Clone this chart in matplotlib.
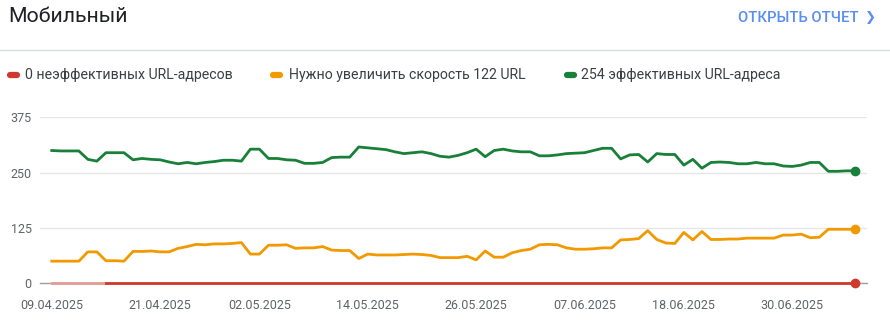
import numpy as np
import pandas as pd
import matplotlib
matplotlib.use('Agg')
import matplotlib.pyplot as plt
from matplotlib.lines import Line2D

plt.rcParams['font.family'] = ['Roboto', 'DejaVu Sans']

start_date = '09.04.2025'
tick_labels = ['09.04.2025', '21.04.2025', '02.05.2025', '14.05.2025',
               '26.05.2025', '07.06.2025', '18.06.2025', '30.06.2025']

# daily URL counts, one value per day starting at start_date
good = [300, 299, 299, 299, 280, 276, 295, 295, 295, 279,
        282, 280, 279, 274, 270, 273, 270, 273, 275, 278,
        278, 276, 303, 303, 282, 282, 279, 278, 271, 271,
        273, 284, 285, 285, 308, 306, 304, 302, 297, 293,
        295, 297, 293, 287, 285, 289, 295, 303, 286, 300,
        303, 299, 297, 297, 288, 288, 290, 293, 294, 295,
        300, 305, 305, 281, 290, 291, 274, 293, 291, 291,
        267, 280, 260, 273, 274, 273, 270, 270, 273, 270,
        270, 265, 264, 267, 273, 273, 253, 253, 254, 254]
need_work = [50, 50, 50, 50, 71, 71, 51, 51, 50, 72,
             72, 73, 71, 71, 79, 83, 88, 87, 89, 89,
             90, 92, 66, 66, 86, 86, 87, 79, 80, 80,
             83, 75, 74, 74, 56, 66, 64, 64, 64, 65,
             66, 65, 63, 58, 58, 58, 61, 53, 73, 59,
             59, 69, 74, 77, 87, 88, 87, 80, 77, 77,
             78, 80, 80, 98, 99, 101, 119, 99, 91, 90,
             115, 98, 117, 99, 99, 100, 100, 102, 102, 102,
             102, 109, 109, 111, 103, 104, 122, 122, 122, 122]
poor = [0] * 90

RED = '#d03a2c'
ORANGE = '#f29900'
GREEN = '#188038'

days = np.arange(len(good))
t0 = pd.to_datetime(start_date, dayfirst=True)
tick_pos = [(pd.to_datetime(t, dayfirst=True) - t0).days for t in tick_labels]

fig = plt.figure(figsize=[8.9, 3.23], dpi=100)
W, H = 890, 323

ax = fig.add_axes([40 / W, (H - 283.3) / H, 826.7 / W, 166.0 / H])
ax.set_xlim(-1.3, 90.25)
ax.set_ylim(0, 375)
ax.set_yticks([0, 125, 250, 375])
ax.set_xticks(tick_pos)
ax.set_xticklabels(tick_labels)
for s in ax.spines.values():
    s.set_visible(False)
ax.tick_params(length=0, colors='#5f6368', labelsize=9)
ax.tick_params(axis='x', pad=11)
ax.tick_params(axis='y', pad=6)
ax.grid(axis='y', color='#e6e6e6', linewidth=1)
ax.axhline(0, color='#9e9e9e', linewidth=1, clip_on=False, zorder=1)

# poor: first week drawn faded, then solid
ax.plot(days[:7], poor[:7], color='#e39a93', linewidth=2, clip_on=False, zorder=3)
ax.plot(days[6:], poor[6:], color=RED, linewidth=2, clip_on=False, zorder=3)
ax.plot(days, need_work, color=ORANGE, linewidth=2, zorder=3)
ax.plot(days, good, color=GREEN, linewidth=2, zorder=3)
for series, c in [(poor, RED), (need_work, ORANGE), (good, GREEN)]:
    ax.plot(days[-1], series[-1], 'o', color=c, markersize=6, clip_on=False, zorder=4)

# header
fig.text(8 / W, 1 - 17 / H, 'Мобильный', fontsize=15.3, color='#202124', va='center', ha='left')
fig.text(859 / W, 1 - 18 / H, 'ОТКРЫТЬ ОТЧЕТ', fontsize=10.6, color='#5a8ef0',
         va='center', ha='right', fontweight='medium')
fig.text(876 / W, 1 - 18 / H, '❯', fontsize=9.5, color='#5a8ef0', va='center', ha='right',
         family=['DejaVu Sans'])
fig.add_artist(Line2D([0, 1], [1 - 50 / H, 1 - 50 / H], color='#dadce0', linewidth=1))

# legend row: (label, colour, marker left, text left) in pixels
legend_items = [('0 неэффективных URL-адресов', RED, 7, 25),
                ('Нужно увеличить скорость 122 URL', ORANGE, 270, 289),
                ('254 эффективных URL-адреса', GREEN, 564, 581)]
for label, c, mx, tx in legend_items:
    y = 1 - 75 / H
    fig.add_artist(Line2D([(mx + 3) / W, (mx + 10) / W], [y, y], color=c, linewidth=4.5,
                          solid_capstyle='round'))
    fig.text(tx / W, 1 - 74.5 / H, label, fontsize=10.2, color='#3c4043',
             va='center', ha='left')

fig.savefig('out.png', dpi=100)
